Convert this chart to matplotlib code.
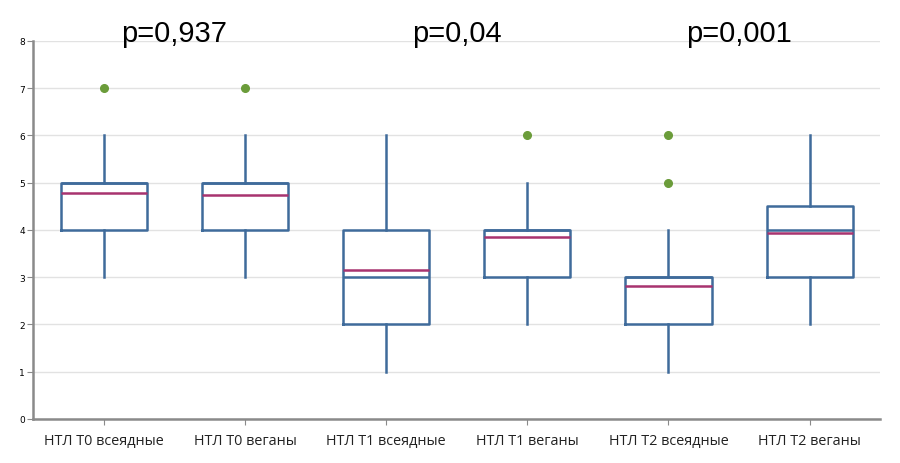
import matplotlib
matplotlib.use('Agg')
import matplotlib.pyplot as plt

groups = ['НТЛ T0 всеядные', 'НТЛ T0 веганы', 'НТЛ T1 всеядные',
          'НТЛ T1 веганы', 'НТЛ T2 всеядные', 'НТЛ T2 веганы']
whislo = [3, 3, 1, 2, 1, 2]
q1 = [4, 4, 2, 3, 2, 3]
med = [5, 5, 3, 4, 3, 4]
q3 = [5, 5, 4, 4, 3, 4.5]
whishi = [6, 6, 6, 5, 4, 6]
means = [4.78, 4.74, 3.15, 3.85, 2.81, 3.93]
fliers = [[7], [7], [], [6], [5, 6], []]
p_values = ['p=0,937', 'p=0,04', 'p=0,001']

box_col = '#3f6b9b'
mean_col = '#a8336f'
out_col = '#6b9c3a'

stats = []
for i in range(len(groups)):
    stats.append({'whislo': whislo[i], 'q1': q1[i], 'med': med[i], 'q3': q3[i],
                  'whishi': whishi[i], 'mean': means[i], 'fliers': fliers[i],
                  'label': groups[i]})

fig = plt.figure(figsize=(9, 4.64), dpi=100)
ax = fig.add_axes([0.037, 0.095, 0.941, 0.815])

ax.bxp(stats, positions=range(len(groups)), widths=0.61, showmeans=True, meanline=True,
       showcaps=False, patch_artist=False,
       boxprops=dict(color=box_col, linewidth=1.8),
       whiskerprops=dict(color=box_col, linewidth=1.8),
       medianprops=dict(color=box_col, linewidth=1.8),
       meanprops=dict(color=mean_col, linewidth=1.8, linestyle='-'),
       flierprops=dict(marker='o', markersize=5.5, markerfacecolor=out_col,
                       markeredgecolor=out_col))

ax.set_xlim(-0.5, len(groups) - 0.5)
ax.set_ylim(0, 8)
ax.set_yticks(range(0, 9))
ax.yaxis.grid(True, color='#e2e2e2', linewidth=1)
ax.set_axisbelow(True)
for s in ['top', 'right']:
    ax.spines[s].set_visible(False)
for s in ['left', 'bottom']:
    ax.spines[s].set_color('#8a8a8a')
    ax.spines[s].set_linewidth(1.8)
ax.tick_params(axis='y', labelsize=6.5, length=4, color='#8a8a8a', pad=2)
ax.tick_params(axis='x', length=4, color='#8a8a8a', pad=6)
ax.set_xticklabels(groups, fontsize=10.4, family='Open Sans', color='#222222')

for k, p in enumerate(p_values):
    ax.text(2 * k + 0.5, 8.17, p, ha='center', va='center', fontsize=21,
            family='Liberation Sans', clip_on=False)

fig.savefig('out.png', dpi=100)
